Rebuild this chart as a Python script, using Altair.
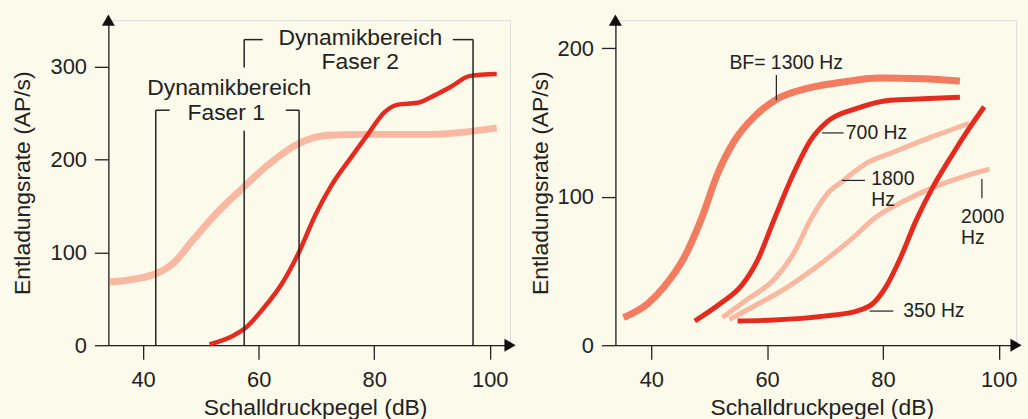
import altair as alt
import pandas as pd

FONT = "Liberation Sans"
RED = "#e52a1f"
SALMON = "#f37b60"
PINK = "#f8b8a2"
INK = "#222222"
BG = "#fcfaea"

# ---------------- Left panel data ----------------
F1_DB = [34.3, 41.8, 45.2, 48.6, 52.1, 57.2, 61.8, 66.9, 72.1, 78.4, 89.8, 101.2]
F1_RATE = [68, 76, 88, 113, 138, 169, 195, 217, 226, 227, 227, 234]

F2_DB = [51.5, 55.5, 57.8, 60.6, 64.1, 66.9, 69.8, 72.6, 76.1, 78.9, 81.8, 84.1,
         87.5, 89.8, 93.2, 96.6, 101.2]
F2_RATE = [1, 10, 19, 38, 67, 99, 140, 172, 203, 227, 251, 259, 261, 267, 278, 290, 292]

# bracket segments (x1, y1) -> (x2, y2)
BR_X1 = [42.2, 42.2, 67.0, 64.7, 57.5, 57.5, 57.5, 97.1, 93.6]
BR_Y1 = [0, 253, 0, 253, 0, 299, 329, 0, 329]
BR_X2 = [42.2, 44.6, 67.0, 67.0, 57.5, 57.5, 60.7, 97.1, 97.1]
BR_Y2 = [253, 253, 253, 253, 231, 329, 329, 329, 329]

L_TEXT = ["Dynamikbereich", "Faser 1", "Dynamikbereich", "Faser 2"]
L_TEXT_X = [54.9, 54.4, 77.6, 77.6]
L_TEXT_Y = [277, 250, 331, 305]

# ---------------- Right panel data ----------------
BF1300_DB = [35.2, 39.5, 42.3, 45.8, 48.6, 51.5, 54.4, 57.8, 61.8, 66.9, 72.6, 79.5, 86.9, 93.3]
BF1300_RATE = [18.6, 28.4, 39.8, 60, 84.6, 116, 138, 154, 166, 173, 177, 180, 179.5, 178]

BF700_DB = [47.5, 52.1, 55.5, 58.4, 61.2, 64.6, 67.5, 70.4, 75.5, 81.2, 86.9, 93.3]
BF700_RATE = [16.3, 28.6, 39.8, 57.7, 84.6, 116, 138, 150.6, 159.5, 165, 166, 167]

BF1800_DB = [52.3, 56.6, 61.2, 64.6, 67.5, 70.4, 73.2, 77.2, 81.8, 86.9, 90.9, 94.9]
BF1800_RATE = [18.6, 30.9, 44.3, 62, 84.6, 102, 111, 122.6, 130, 138, 143.8, 149.5]

BF2000_DB = [53.5, 57.8, 62.9, 68.6, 74.4, 79.0, 84.1, 89.8, 94.9, 98.4]
BF2000_RATE = [17.4, 26.4, 37.6, 53, 71, 86.8, 98, 108, 114.8, 118.6]

BF350_DB = [54.9, 61.2, 69.8, 75.5, 78.4, 80.6, 82.9, 85.8, 88.7, 92.1, 94.9, 97.5]
BF350_RATE = [16.3, 17, 19.6, 23, 28.5, 39.8, 57.7, 84.6, 107, 129, 146, 160.6]

PT_X1 = [61.6, 69.5, 72.9, 97.1, 77.7]
PT_Y1 = [182, 143, 111, 112, 23]
PT_X2 = [61.6, 73.2, 76.9, 97.1, 81.8]
PT_Y2 = [165, 143, 111, 99, 23]

R_CTEXT = ["BF= 1300 Hz"]
R_CTEXT_X = [63.3]
R_CTEXT_Y = [190]
R_LTEXT = ["700 Hz", "1800", "Hz", "2000", "Hz", "350 Hz"]
R_LTEXT_X = [73.6, 78.0, 78.0, 93.5, 93.5, 83.5]
R_LTEXT_Y = [143, 112, 97.5, 86.5, 72, 23]

TICKS_X = [40, 60, 80, 100]
L_TICKS_Y = [0, 100, 200, 300]
R_TICKS_Y = [0, 100, 200]

L_XDOM = [34.0, 103.5]
L_YDOM = [0, 350]
R_XDOM = [33.8, 103.0]
R_YDOM = [0, 219]

PX_PER_DB = 5.817
H = 327


def make_panel(xdom, ydom, yticks, ytitle_x, lines, rules, ctexts, ltexts, text_size):
    width = round((xdom[1] - xdom[0]) * PX_PER_DB)
    xs = alt.Scale(domain=xdom, nice=False, zero=False)
    ys = alt.Scale(domain=ydom, nice=False, zero=False)
    xax = alt.Axis(values=TICKS_X, title="Schalldruckpegel (dB)", grid=False,
                   tickSize=14, labelPadding=11, labelFontSize=22, titleFontSize=23,
                   titleFontWeight="normal", titlePadding=6, titleX=width / 2 + 6,
                   domainColor=INK, tickColor=INK, labelColor=INK, titleColor=INK,
                   domainWidth=1.3, tickWidth=1.3)
    yax = alt.Axis(values=yticks, title="Entladungsrate (AP/s)", grid=False,
                   tickSize=14, labelPadding=8, labelFontSize=22, titleFontSize=23,
                   titleFontWeight="normal", titleX=ytitle_x, titleBaseline="middle",
                   domainColor=INK, tickColor=INK, labelColor=INK, titleColor=INK,
                   domainWidth=1.3, tickWidth=1.3)
    X = alt.X("x:Q", scale=xs, axis=xax)
    Y = alt.Y("y:Q", scale=ys, axis=yax)

    layers = []
    for xsv, ysv, color, w in lines:
        df = pd.DataFrame({"x": xsv, "y": ysv, "o": list(range(len(xsv)))})
        layers.append(
            alt.Chart(df).mark_line(color=color, strokeWidth=w, interpolate="monotone",
                                    strokeCap="butt")
            .encode(x=X, y=Y, order="o:Q")
        )
    x1, y1, x2, y2, rw = rules
    rdf = pd.DataFrame({"x": x1, "y": y1, "x2": x2, "y2": y2})
    layers.append(
        alt.Chart(rdf).mark_rule(color=INK, strokeWidth=rw)
        .encode(x=X, y=Y, x2="x2:Q", y2="y2:Q")
    )
    if ctexts:
        t, tx, ty = ctexts
        cdf = pd.DataFrame({"x": tx, "y": ty, "t": t})
        layers.append(
            alt.Chart(cdf).mark_text(align="center", baseline="middle", fontSize=text_size,
                                     color=INK, font=FONT)
            .encode(x=X, y=Y, text="t:N")
        )
    if ltexts:
        t, tx, ty = ltexts
        ldf = pd.DataFrame({"x": tx, "y": ty, "t": t})
        layers.append(
            alt.Chart(ldf).mark_text(align="left", baseline="middle", fontSize=text_size,
                                     color=INK, font=FONT)
            .encode(x=X, y=Y, text="t:N")
        )
    # axis arrowheads
    up = pd.DataFrame({"x": [xdom[0]], "y": [ydom[1]]})
    right = pd.DataFrame({"x": [xdom[1]], "y": [ydom[0]]})
    layers.append(
        alt.Chart(up).mark_point(shape="triangle-up", filled=True, size=170, color="#111",
                                 opacity=1).encode(x=X, y=Y)
    )
    layers.append(
        alt.Chart(right).mark_point(shape="triangle-right", filled=True, size=170, color="#111",
                                    opacity=1).encode(x=X, y=Y)
    )
    return alt.layer(*layers).properties(width=width, height=H)


left = make_panel(
    L_XDOM, L_YDOM, L_TICKS_Y, -86,
    [(F1_DB, F1_RATE, PINK, 7), (F2_DB, F2_RATE, RED, 4.5)],
    (BR_X1, BR_Y1, BR_X2, BR_Y2, 1.5),
    (L_TEXT, L_TEXT_X, L_TEXT_Y), None, 23,
)

right = make_panel(
    R_XDOM, R_YDOM, R_TICKS_Y, -75,
    [(BF1300_DB, BF1300_RATE, SALMON, 7), (BF2000_DB, BF2000_RATE, PINK, 5),
     (BF1800_DB, BF1800_RATE, PINK, 5), (BF350_DB, BF350_RATE, RED, 5),
     (BF700_DB, BF700_RATE, RED, 5)],
    (PT_X1, PT_Y1, PT_X2, PT_Y2, 1.2),
    (R_CTEXT, R_CTEXT_X, R_CTEXT_Y), (R_LTEXT, R_LTEXT_X, R_LTEXT_Y), 19.5,
)

chart = (
    alt.hconcat(left, right, spacing=12)
    .properties(padding={"left": 11, "top": 12, "right": 5, "bottom": 0}, background=BG)
    .configure_view(stroke=None)
    .configure(font=FONT)
)

chart.save("out.html", embed_options={"renderer": "svg", "actions": False})
